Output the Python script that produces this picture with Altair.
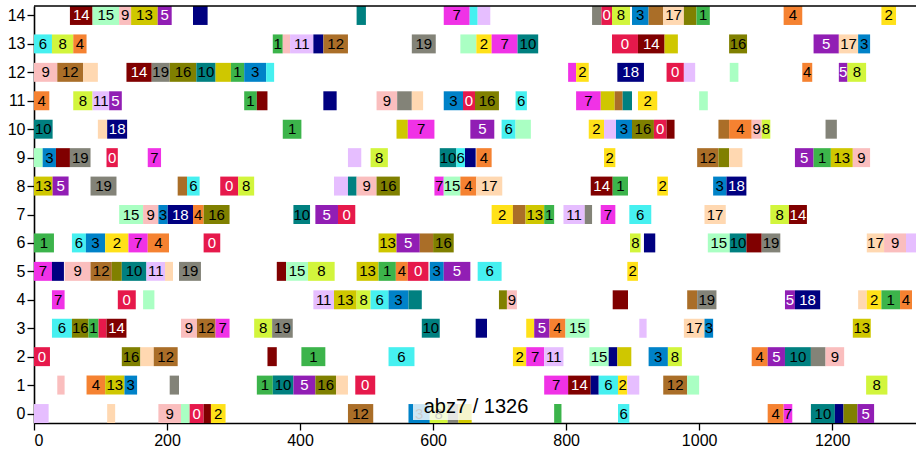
import altair as alt
import numpy as np
import pandas as pd

# ---- schedule (job, start, end) on each machine row ----
machine_0 = [(11, 0, 22), (17, 110, 122), (9, 187, 221), (15, 221, 234), (0, 234, 255), (14, 255, 266), (2, 266, 288), (12, 472, 510), (3, 563, 595), (8, 595, 622), (19, 622, 638), (13, 638, 658), (1, 782, 793), (6, 878, 895), (4, 1103, 1127), (7, 1127, 1140), (10, 1168, 1204), (18, 1204, 1217), (16, 1217, 1238), (5, 1238, 1263)]
machine_1 = [(9, 35, 46), (4, 79, 107), (13, 107, 136), (3, 136, 155), (19, 204, 218), (1, 335, 359), (10, 359, 390), (5, 390, 423), (16, 423, 454), (17, 454, 472), (0, 483, 513), (7, 767, 803), (14, 803, 837), (18, 837, 849), (6, 849, 878), (2, 878, 892), (11, 892, 910), (12, 946, 982), (15, 982, 1000), (8, 1251, 1283)]
machine_2 = [(0, 0, 24), (16, 132, 160), (17, 160, 180), (12, 180, 216), (14, 351, 365), (1, 402, 438), (6, 533, 572), (2, 720, 740), (7, 740, 767), (11, 767, 796), (15, 835, 864), (18, 864, 877), (13, 877, 898), (3, 924, 953), (8, 953, 974), (4, 1079, 1103), (5, 1103, 1129), (10, 1129, 1168), (19, 1168, 1190), (9, 1190, 1218)]
machine_3 = [(6, 27, 57), (16, 57, 82), (1, 82, 97), (0, 97, 109), (14, 109, 139), (9, 221, 245), (12, 245, 273), (7, 273, 294), (8, 331, 358), (19, 358, 389), (10, 583, 610), (18, 664, 681), (2, 740, 752), (5, 752, 775), (4, 775, 799), (15, 799, 835), (11, 910, 921), (17, 977, 1008), (3, 1008, 1021), (13, 1231, 1258)]
machine_4 = [(7, 27, 46), (0, 126, 153), (15, 164, 181), (11, 420, 451), (13, 451, 485), (8, 485, 506), (6, 506, 533), (3, 533, 563), (10, 563, 583), (16, 699, 711), (9, 711, 726), (14, 870, 893), (12, 982, 997), (19, 997, 1026), (5, 1129, 1144), (18, 1144, 1182), (17, 1239, 1252), (2, 1252, 1274), (1, 1274, 1302), (4, 1302, 1320)]
machine_5 = [(7, 0, 27), (18, 27, 45), (9, 46, 85), (12, 85, 117), (16, 117, 132), (10, 132, 169), (11, 169, 197), (17, 197, 209), (19, 218, 251), (14, 365, 379), (15, 379, 412), (8, 412, 452), (13, 485, 518), (1, 518, 544), (4, 544, 562), (0, 562, 593), (3, 595, 616), (5, 616, 656), (6, 667, 703), (2, 892, 908)]
machine_6 = [(1, 0, 30), (6, 57, 78), (3, 78, 107), (2, 107, 142), (7, 142, 171), (4, 171, 203), (0, 255, 280), (13, 518, 545), (5, 545, 580), (12, 580, 600), (16, 600, 631), (8, 896, 912), (18, 917, 934), (15, 1013, 1046), (10, 1046, 1071), (14, 1071, 1094), (19, 1094, 1122), (17, 1252, 1278), (9, 1278, 1311), (11, 1311, 1326)]
machine_7 = [(15, 128, 164), (9, 164, 187), (3, 187, 201), (18, 201, 239), (4, 239, 255), (16, 255, 294), (10, 390, 415), (5, 423, 457), (0, 457, 483), (2, 688, 720), (12, 720, 739), (13, 739, 767), (1, 767, 782), (11, 796, 828), (19, 828, 839), (7, 852, 874), (6, 895, 928), (17, 1008, 1040), (8, 1107, 1135), (14, 1135, 1162)]
machine_8 = [(13, 0, 28), (5, 28, 52), (19, 85, 124), (12, 216, 230), (6, 230, 249), (0, 280, 307), (8, 307, 331), (11, 451, 472), (10, 472, 485), (9, 485, 515), (16, 515, 550), (7, 602, 616), (15, 616, 641), (4, 641, 665), (17, 665, 704), (14, 837, 870), (1, 870, 893), (2, 937, 953), (3, 1021, 1041), (18, 1041, 1071)]
machine_9 = [(15, 0, 13), (3, 13, 33), (14, 33, 54), (19, 54, 85), (0, 109, 126), (7, 171, 191), (11, 472, 492), (8, 506, 532), (10, 610, 635), (6, 635, 648), (18, 648, 664), (4, 665, 688), (2, 857, 874), (12, 997, 1029), (16, 1029, 1045), (17, 1045, 1065), (5, 1144, 1172), (1, 1172, 1198), (13, 1198, 1231), (9, 1231, 1257)]
machine_10 = [(10, 0, 28), (17, 96, 110), (18, 110, 140), (1, 374, 402), (13, 545, 562), (7, 562, 602), (5, 656, 692), (6, 703, 724), (15, 724, 747), (2, 834, 857), (11, 857, 875), (3, 875, 899), (16, 899, 932), (0, 932, 951), (14, 951, 963), (12, 1029, 1045), (4, 1045, 1079), (9, 1079, 1094), (8, 1094, 1107), (19, 1190, 1207)]
machine_11 = [(4, 0, 23), (8, 59, 88), (11, 88, 113), (5, 113, 132), (1, 316, 335), (14, 335, 351), (18, 435, 455), (9, 515, 546), (19, 546, 568), (17, 568, 585), (3, 616, 645), (0, 645, 663), (16, 663, 699), (6, 724, 741), (7, 815, 852), (13, 852, 873), (12, 873, 885), (10, 885, 899), (2, 908, 937), (15, 1000, 1013)]
machine_12 = [(9, 0, 35), (12, 35, 74), (17, 74, 96), (14, 139, 177), (19, 177, 204), (16, 204, 244), (10, 244, 273), (13, 273, 296), (1, 296, 316), (3, 316, 349), (6, 349, 361), (7, 803, 815), (2, 815, 834), (18, 877, 917), (0, 951, 977), (11, 977, 994), (15, 1046, 1059), (4, 1155, 1170), (5, 1210, 1223), (8, 1223, 1251)]
machine_13 = [(6, 0, 27), (8, 27, 59), (4, 59, 79), (1, 359, 374), (9, 374, 385), (11, 385, 420), (18, 420, 435), (12, 435, 472), (19, 568, 604), (15, 641, 665), (2, 665, 688), (7, 688, 727), (10, 727, 758), (0, 869, 908), (14, 908, 948), (13, 948, 968), (16, 1045, 1072), (5, 1172, 1210), (17, 1210, 1239), (3, 1239, 1257)]
machine_14 = [(14, 54, 88), (15, 88, 128), (9, 128, 146), (13, 146, 186), (5, 186, 207), (18, 239, 261), (10, 485, 499), (7, 616, 655), (6, 655, 667), (11, 667, 686), (19, 839, 853), (0, 853, 869), (8, 869, 896), (3, 899, 924), (12, 924, 946), (17, 946, 977), (16, 977, 996), (1, 996, 1016), (4, 1127, 1155), (2, 1274, 1296)]

machines = [machine_0, machine_1, machine_2, machine_3, machine_4, machine_5, machine_6,
            machine_7, machine_8, machine_9, machine_10, machine_11, machine_12,
            machine_13, machine_14]

job_colors = ["#e6194b", "#3cb44b", "#ffe119", "#0082c8", "#f58231", "#911eb4", "#46f0f0",
              "#f032e6", "#d2f53c", "#fabebe", "#008080", "#e6beff", "#aa6e28", "#cfc700",
              "#800000", "#aaffc3", "#808000", "#ffd8b1", "#000080", "#838378"]
white_text_jobs = [0, 5, 14, 18]
x_ticks = [0, 200, 400, 600, 800, 1000, 1200]
y_ticks = list(range(15))
instance_name = "abz7"
makespan = 1326

PLOT_W, PLOT_H = 882, 417
FONT = "Liberation Sans"

rows = []
for m, ops in enumerate(machines):
    for job, s, e in ops:
        rows.append({"machine": m, "job": job, "start": s, "end": e})
df = pd.DataFrame(rows)
df["lo"] = df["machine"] - 1 / 3
df["hi"] = df["machine"] + 1 / 3
df["mid"] = (df["start"] + df["end"]) / 2
df["label"] = df["job"].astype(str)
px_per_unit = PLOT_W / makespan
df["show"] = (df["end"] - df["start"]) * px_per_unit >= 8.3 * df["label"].str.len()
df["tcolor"] = np.where(df["job"].isin(white_text_jobs), "white", "black")

x_scale = alt.Scale(domain=[0, makespan], nice=False, zero=False)
y_scale = alt.Scale(domain=[-1 / 3, 14 + 1 / 3], nice=False, zero=False)
x_axis = alt.Axis(values=x_ticks, title=None, grid=False, format="d")
y_axis = alt.Axis(values=y_ticks, title=None, grid=False, format="d")

bars = alt.Chart(df).mark_rect().encode(
    x=alt.X("start:Q", scale=x_scale, axis=x_axis),
    x2="end:Q",
    y=alt.Y("lo:Q", scale=y_scale, axis=y_axis),
    y2="hi:Q",
    color=alt.Color("job:N", scale=alt.Scale(domain=list(range(20)), range=job_colors),
                    legend=None),
)

labels = alt.Chart(df[df["show"]]).mark_text(
    fontSize=15, font=FONT, baseline="middle", align="center"
).encode(
    x=alt.X("mid:Q", scale=x_scale, axis=x_axis),
    y=alt.Y("machine:Q", scale=y_scale, axis=y_axis),
    text="label:N",
    color=alt.Color("tcolor:N", scale=None),
)

title_df = pd.DataFrame({"t": [f"{instance_name} / {makespan}"]})
box = alt.Chart(title_df).mark_rect(fill="white", opacity=0.8).encode(
    x=alt.value(379), x2=alt.value(507), y=alt.value(386), y2=alt.value(414)
)
title = alt.Chart(title_df).mark_text(
    fontSize=20, font=FONT, baseline="alphabetic", align="center", color="black"
).encode(x=alt.value(442), y=alt.value(407), text="t:N")

top_line = alt.Chart(title_df).mark_rule(color="black", strokeWidth=1.6).encode(
    x=alt.value(0), x2=alt.value(PLOT_W), y=alt.value(0)
)

chart = alt.layer(bars, labels, box, title, top_line).properties(
    width=PLOT_W, height=PLOT_H,
    autosize=alt.AutoSizeParams(type="none"),
    padding={"left": 34, "top": 6, "right": 0, "bottom": 27},
).configure_view(
    strokeWidth=0
).configure_axis(
    domainColor="black", domainWidth=1.6, tickColor="black", tickWidth=1.3,
    tickSize=7, labelColor="black", labelFontSize=16, labelFont=FONT,
    labelPadding=2,
)

chart.save("out.html", embed_options={"renderer": "svg", "actions": False})
